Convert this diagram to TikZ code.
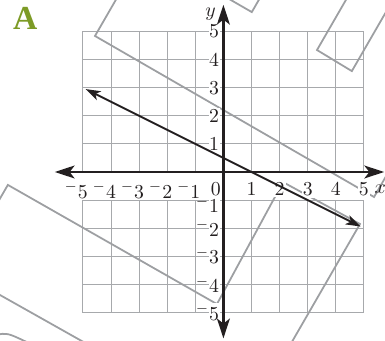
\documentclass[tikz,border=0pt]{standalone}
\usepackage{xcolor}
\usepackage{fontspec}
\usepackage{tikz}
\usetikzlibrary{calc,arrows.meta}
\newfontfamily\tagfont{Liberation Serif}
\definecolor{GInk}{HTML}{231F20}
\definecolor{GGrid}{HTML}{A7A9AC}
\definecolor{GFrame}{HTML}{9D9FA2}
\definecolor{GGreen}{HTML}{7D9B26}
\begin{document}
\begin{tikzpicture}[
  x=5mm, y=5mm, every node/.style={font=\normalsize, text=GInk},
  gridline/.style={draw=GGrid, line width=0.5pt, step=5mm},
  frame/.style   ={draw=GFrame, line width=0.9pt, line join=miter},
  axis/.style    ={draw=GInk, line width=1.3pt, {Stealth[length=10pt,width=6.5pt,inset=2.5pt]}-{Stealth[length=10pt,width=6.5pt,inset=2.5pt]}},
  graph/.style   ={draw=GInk, line width=1pt, {Stealth[length=7.5pt,width=5pt,inset=2pt]}-{Stealth[length=7.5pt,width=5pt,inset=2pt]}},
  xlab/.style    ={fill=white, inner xsep=0.5pt, inner ysep=0.8pt, anchor=north},
  ylab/.style    ={fill=white, inner xsep=0.3pt, inner ysep=0.5pt, anchor=east, xshift=-0.6mm},
]
\useasboundingbox (-7.95,-5.98) rectangle (5.75,6.12);
% grid, with the band under the x labels left open
\draw[gridline] (-5,0) grid (5,5);
\draw[gridline] (-5,-5) grid (5,-1);
% stray grey frames
\begin{scope}
  \clip (-7.95,-5.98) rectangle (5.75,6.12);
  \coordinate (fa) at (-4.57,4.84);
  \coordinate (fb) at (5.36,-0.89);
  \draw[frame] ($(fa)+(60:3)$) -- (fa) -- (fb) -- ($(fb)+(60:3)$);
  \coordinate (fp) at (3.33,4.34);
  \coordinate (fq) at (4.57,3.59);
  \draw[frame] ($(fp)+(60:3)$) -- (fp) -- (fq) -- ($(fq)+(60:3)$);
  \coordinate (ft) at (1.01,5.69);
  \draw[frame] ($(ft)+(150:2)$) -- (ft) -- ($(ft)+(60:2)$);
  \coordinate (fc) at (-7.67,-0.46);
  \coordinate (fd) at (-0.23,-4.70);
  \coordinate (fe) at (2.12,-0.36);
  \coordinate (ff) at (4.86,-1.85);
  \draw[frame] ($(fc)+(240:2)$) -- (fc) -- (fd) -- (fe) -- (ff) -- ($(ff)+(240:6)$);
  \draw[frame] (-8.3,-4.18) -- (-4.8,-6.15);
  \draw[frame] (-8.1,-5.8) .. controls (-7.7,-5.72) .. (-7.0,-6.05);
\end{scope}
% tick labels
\foreach \n in {1,...,5} {
  \node[xlab] (xp\n) at (\n,-0.3) {\n};
  \node[xlab] (xm\n) at (-\n,-0.3) {\llap{$^-$}\n};
  \node[ylab] (yp\n) at (0,\n) {\n};
}
\foreach \n in {2,...,5} {\node[ylab] (ym\n) at (0,-\n) {\llap{$^-$}\n};}
\node[ylab, yshift=-2.5pt] (ym1) at (0,-1) {\llap{$^-$}1};
\node[fill=white, inner sep=0.3pt] (zero) at (-0.27,-0.6) {0};
% axes
\draw[axis] (-6,0) -- (5.72,0);
\draw[axis] (0,-5.92) -- (0,5.95);
\node (xname) at (5.58,-0.6) {$x$};
\node (yname) at (-0.46,5.62) {$y$};
% the graphed line
\coordinate (p1) at (-4.9,2.95);
\coordinate (p2) at (4.88,-1.94);
\draw[graph] (p1) -- (p2);
\node[font=\tagfont\fontsize{17}{20}\selectfont\bfseries, text=GGreen] (tag) at (-7.05,5.46) {A};
\end{tikzpicture}
\end{document}
